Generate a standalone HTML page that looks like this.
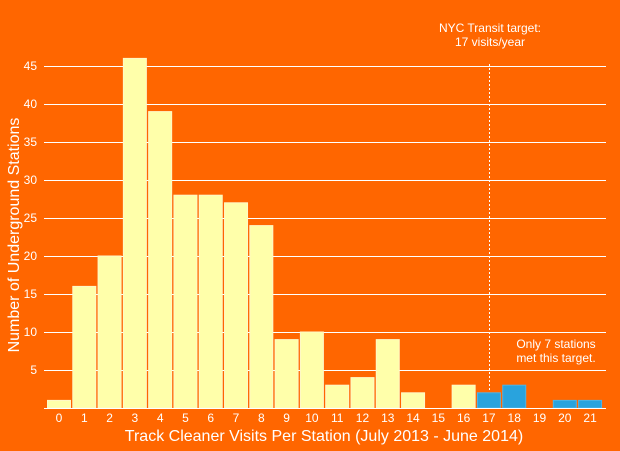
<!DOCTYPE html>
<html><head><meta charset="utf-8"><style>
body{margin:0;background:#ff6600;}
svg{display:block;font-family:"Liberation Sans",sans-serif;}
</style></head><body>
<svg width="620" height="451" viewBox="0 0 620 451">
<rect width="620" height="451" fill="#ff6600"/>
<g stroke="#fff" stroke-width="1">
<line x1="44" x2="606" y1="66.5" y2="66.5"/>
<line x1="44" x2="606" y1="104.5" y2="104.5"/>
<line x1="44" x2="606" y1="142.5" y2="142.5"/>
<line x1="44" x2="606" y1="180.5" y2="180.5"/>
<line x1="44" x2="606" y1="218.5" y2="218.5"/>
<line x1="44" x2="606" y1="256.5" y2="256.5"/>
<line x1="44" x2="606" y1="294.5" y2="294.5"/>
<line x1="44" x2="606" y1="332.5" y2="332.5"/>
<line x1="44" x2="606" y1="370.5" y2="370.5"/>
</g>
<g font-size="12" fill="#fff" text-anchor="end">
<text x="37" y="70">45</text><text x="37" y="108">40</text><text x="37" y="146">35</text>
<text x="37" y="184">30</text><text x="37" y="222">25</text><text x="37" y="260">20</text>
<text x="37" y="298">15</text><text x="37" y="336">10</text><text x="37" y="374">5</text>
</g>
<g fill="#ffffaa" stroke="#fff8c8" stroke-width="1">
<rect x="47.5" y="400.4" width="23" height="7.6"/>
<rect x="72.79" y="286.4" width="23" height="121.6"/>
<rect x="98.08" y="256" width="23" height="152"/>
<rect x="123.37" y="58.4" width="23" height="349.6"/>
<rect x="148.66" y="111.6" width="23" height="296.4"/>
<rect x="173.95" y="195.2" width="23" height="212.8"/>
<rect x="199.24" y="195.2" width="23" height="212.8"/>
<rect x="224.53" y="202.8" width="23" height="205.2"/>
<rect x="249.82" y="225.6" width="23" height="182.4"/>
<rect x="275.11" y="339.6" width="23" height="68.4"/>
<rect x="300.4" y="332" width="23" height="76"/>
<rect x="325.69" y="385.2" width="23" height="22.8"/>
<rect x="350.98" y="377.6" width="23" height="30.4"/>
<rect x="376.27" y="339.6" width="23" height="68.4"/>
<rect x="401.56" y="392.8" width="23" height="15.2"/>
<rect x="452.14" y="385.2" width="23" height="22.8"/>
</g>
<g fill="#29a3dd" stroke="#4fb3e3" stroke-width="1">
<rect x="477.43" y="392.8" width="23" height="15.2"/>
<rect x="502.72" y="385.2" width="23" height="22.8"/>
<rect x="553.3" y="400.4" width="23" height="7.6"/>
<rect x="578.59" y="400.4" width="23" height="7.6"/>
</g>
<line x1="44" x2="606" y1="408.5" y2="408.5" stroke="#fff"/>
<line x1="489.5" x2="489.5" y1="64" y2="392" stroke="#fff" stroke-dasharray="2,2"/>
<g font-size="12" fill="#fff" text-anchor="middle">
<text x="59" y="422">0</text><text x="84.29" y="422">1</text><text x="109.58" y="422">2</text>
<text x="134.87" y="422">3</text><text x="160.16" y="422">4</text><text x="185.45" y="422">5</text>
<text x="210.74" y="422">6</text><text x="236.03" y="422">7</text><text x="261.32" y="422">8</text>
<text x="286.61" y="422">9</text><text x="311.9" y="422">10</text><text x="337.19" y="422">11</text>
<text x="362.48" y="422">12</text><text x="387.77" y="422">13</text><text x="413.06" y="422">14</text>
<text x="438.35" y="422">15</text><text x="463.64" y="422">16</text><text x="488.93" y="422">17</text>
<text x="514.22" y="422">18</text><text x="539.51" y="422">19</text><text x="564.8" y="422">20</text>
<text x="590.09" y="422">21</text>
</g>
<text x="490" y="32" font-size="12" fill="#fff" text-anchor="middle">NYC Transit target:</text>
<text x="490" y="46" font-size="12" fill="#fff" text-anchor="middle">17 visits/year</text>
<text x="556" y="348" font-size="12" fill="#fff" text-anchor="middle">Only 7 stations</text>
<text x="556" y="362" font-size="12" fill="#fff" text-anchor="middle">met this target.</text>
<text x="324" y="441" font-size="16" fill="#fff" text-anchor="middle">Track Cleaner Visits Per Station (July 2013 - June 2014)</text>
<text transform="translate(19,235) rotate(-90)" font-size="16" fill="#fff" text-anchor="middle">Number of Underground Stations</text>
</svg>
</body></html>
